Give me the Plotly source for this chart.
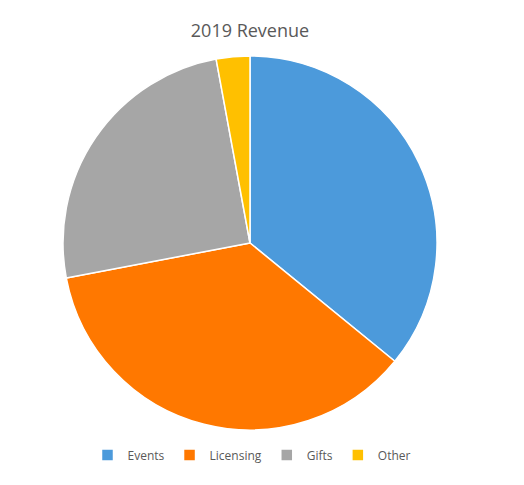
import plotly.graph_objects as go

# slice shares (percent)
categories = ["Events", "Licensing", "Gifts", "Other"]
revenue = [35.9, 36.1, 25.1, 2.9]
colors = ["#4C9ADB", "#FF7800", "#A6A6A6", "#FFC000"]

# page body adds an 8px margin, so the figure is a bit smaller and shifted
OFF = 8
W, H = 524 - OFF, 485 - OFF


def px(x):
    return (x - OFF) / W


def py(y):
    return 1 - (y - OFF) / H


fig = go.Figure(
    go.Pie(
        labels=categories,
        values=revenue,
        sort=False,
        direction="clockwise",
        rotation=0,
        textinfo="none",
        hoverinfo="label+percent",
        domain=dict(x=[px(63), px(437)], y=[py(430), py(56)]),
        marker=dict(colors=colors, line=dict(color="white", width=1.5)),
    )
)

fig.update_layout(
    width=W,
    height=H,
    paper_bgcolor="white",
    plot_bgcolor="white",
    margin=dict(l=0, r=0, t=0, b=0, autoexpand=False),
    font=dict(family="Open Sans", color="#595959"),
    title=dict(
        text="2019 Revenue",
        x=px(250),
        xref="paper",
        xanchor="center",
        y=py(31),
        yref="paper",
        yanchor="middle",
        font=dict(size=18, color="#595959"),
    ),
    legend=dict(
        orientation="h",
        x=px(252),
        xanchor="center",
        y=py(455),
        yanchor="middle",
        font=dict(size=12, color="#595959"),
        itemwidth=30,
    ),
)

fig.write_html("out.html")
